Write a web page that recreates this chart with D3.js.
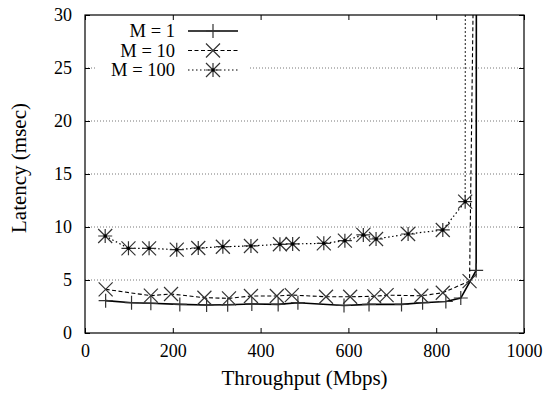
<!DOCTYPE html>
<html>
<head>
<meta charset="utf-8">
<script src="https://cdn.jsdelivr.net/npm/d3@7"></script>
</head>
<body style="margin:0">
<script>
// Data (throughput in Mbps, latency in msec)
const m1X = [47, 106, 150, 216, 277, 325, 380, 440, 485, 590, 647, 721, 769, 822, 856, 891, 892];
const m1Y = [3.05, 2.86, 2.8, 2.7, 2.64, 2.67, 2.74, 2.7, 2.86, 2.6, 2.7, 2.7, 2.86, 2.97, 3.3, 5.9, 60];
const m10X = [47, 150, 196, 272, 328, 378, 437, 471, 549, 604, 659, 687, 766, 815, 876, 887];
const m10Y = [4.12, 3.52, 3.68, 3.33, 3.27, 3.49, 3.49, 3.58, 3.42, 3.42, 3.46, 3.57, 3.51, 3.8, 4.9, 40];
const m100X = [46, 99, 146, 209, 258, 314, 378, 444, 473, 544, 592, 634, 663, 736, 815, 866, 867];
const m100Y = [9.15, 7.99, 7.99, 7.86, 8.02, 8.14, 8.21, 8.37, 8.4, 8.46, 8.71, 9.25, 8.87, 9.34, 9.72, 12.39, 60];
const seriesNames = ["M = 1", "M = 10", "M = 100"];
const xTicks = [0, 200, 400, 600, 800, 1000];
const yTicks = [0, 5, 10, 15, 20, 25, 30];
const gridTicks = [5, 10, 15, 20, 25];

const FONT = "Liberation Serif";

const margin = {top: 15, right: 23, bottom: 61, left: 85};
const width = 547 - margin.left - margin.right;
const height = 394 - margin.top - margin.bottom;

const root = d3.select("body").append("svg")
    .attr("width", 547)
    .attr("height", 394);

const svg = root.append("g")
    .attr("transform", `translate(${margin.left},${margin.top})`);

const x = d3.scaleLinear().domain([0, 1000]).range([0, width]);
const y = d3.scaleLinear().domain([0, 30]).range([height, 0]);

root.append("defs").append("clipPath").attr("id", "plot-clip")
    .append("rect").attr("width", width).attr("height", height);

// Horizontal grid
svg.selectAll(".grid")
    .data(gridTicks)
    .join("line")
    .attr("x1", 0).attr("x2", width)
    .attr("y1", d => y(d)).attr("y2", d => y(d))
    .attr("stroke", "#777")
    .attr("stroke-width", 1)
    .attr("stroke-dasharray", "1,2");

// Legend background hides the grid behind it
svg.append("rect")
    .attr("x", 10).attr("y", 2)
    .attr("width", 153).attr("height", 64)
    .attr("fill", "#fff");

// Axes with inward ticks, mirrored
const tickLen = 5;
svg.append("g")
    .attr("transform", `translate(0,${height})`)
    .call(d3.axisBottom(x).tickValues(xTicks).tickFormat(d3.format("d"))
        .tickSizeInner(-tickLen).tickSizeOuter(0).tickPadding(11))
    .call(g => g.select(".domain").remove())
    .call(g => g.selectAll("text").attr("font-family", FONT).attr("font-size", 18));
svg.append("g")
    .call(d3.axisTop(x).tickValues(xTicks).tickSizeInner(-tickLen).tickSizeOuter(0).tickFormat(""))
    .call(g => g.select(".domain").remove());
svg.append("g")
    .call(d3.axisLeft(y).tickValues(yTicks).tickSizeInner(-tickLen).tickSizeOuter(0).tickPadding(13))
    .call(g => g.select(".domain").remove())
    .call(g => g.selectAll("text").attr("font-family", FONT).attr("font-size", 18));
svg.append("g")
    .attr("transform", `translate(${width},0)`)
    .call(d3.axisRight(y).tickValues(yTicks).tickSizeInner(-tickLen).tickSizeOuter(0).tickFormat(""))
    .call(g => g.select(".domain").remove());

svg.append("rect")
    .attr("width", width).attr("height", height)
    .attr("fill", "none")
    .attr("stroke", "#000")
    .attr("stroke-width", 1.2);

// Marker shapes
function plus(g, s) {
    g.append("path").attr("d", `M${-s},0H${s}M0,${-s}V${s}`);
}
function cross(g, s) {
    g.append("path").attr("d", `M${-s},${-s}L${s},${s}M${-s},${s}L${s},${-s}`);
}
function star(g, s) {
    plus(g, s);
    cross(g, s);
    g.append("circle").attr("r", 1.8).attr("fill", "#000").attr("stroke", "none");
}

const series = [
    {xs: m1X, ys: m1Y, dash: null, marker: plus, size: 7, lw: 1.6},
    {xs: m10X, ys: m10Y, dash: "4,2.5", marker: cross, size: 7, lw: 1.1},
    {xs: m100X, ys: m100Y, dash: "1.5,2.5", marker: star, size: 7, lw: 1.2}
];

const line = d3.line().x(d => x(d[0])).y(d => y(d[1]));
const plot = svg.append("g").attr("clip-path", "url(#plot-clip)");

series.forEach(s => {
    const pts = s.xs.map((v, i) => [v, s.ys[i]]);
    plot.append("path")
        .datum(pts)
        .attr("d", line)
        .attr("fill", "none")
        .attr("stroke", "#000")
        .attr("stroke-width", s.lw)
        .attr("stroke-dasharray", s.dash);
    pts.filter(p => p[1] <= 30).forEach(p => {
        const g = plot.append("g")
            .attr("transform", `translate(${x(p[0])},${y(p[1])})`)
            .attr("fill", "none")
            .attr("stroke", "#333")
            .attr("stroke-width", 1.2);
        s.marker(g, s.size);
    });
});

// Legend
const legend = svg.append("g");
series.forEach((s, i) => {
    const ly = 16 + i * 19.5;
    legend.append("text")
        .attr("x", 90).attr("y", ly)
        .attr("dy", "0.35em")
        .attr("text-anchor", "end")
        .attr("font-family", FONT)
        .attr("font-size", 18.5)
        .text(seriesNames[i]);
    legend.append("line")
        .attr("x1", 103).attr("x2", 153)
        .attr("y1", ly).attr("y2", ly)
        .attr("stroke", "#000")
        .attr("stroke-width", s.lw)
        .attr("stroke-dasharray", s.dash);
    const g = legend.append("g")
        .attr("transform", `translate(128,${ly})`)
        .attr("fill", "none")
        .attr("stroke", "#333")
        .attr("stroke-width", 1.2);
    s.marker(g, s.size);
});

// Axis titles
root.append("text")
    .attr("x", margin.left + width / 2)
    .attr("y", 385)
    .attr("text-anchor", "middle")
    .attr("font-family", FONT)
    .attr("font-size", 21)
    .text("Throughput (Mbps)");

root.append("text")
    .attr("transform", "rotate(-90)")
    .attr("x", -168)
    .attr("y", 26)
    .attr("text-anchor", "middle")
    .attr("font-family", FONT)
    .attr("font-size", 21)
    .text("Latency (msec)");
</script>
</body>
</html>
